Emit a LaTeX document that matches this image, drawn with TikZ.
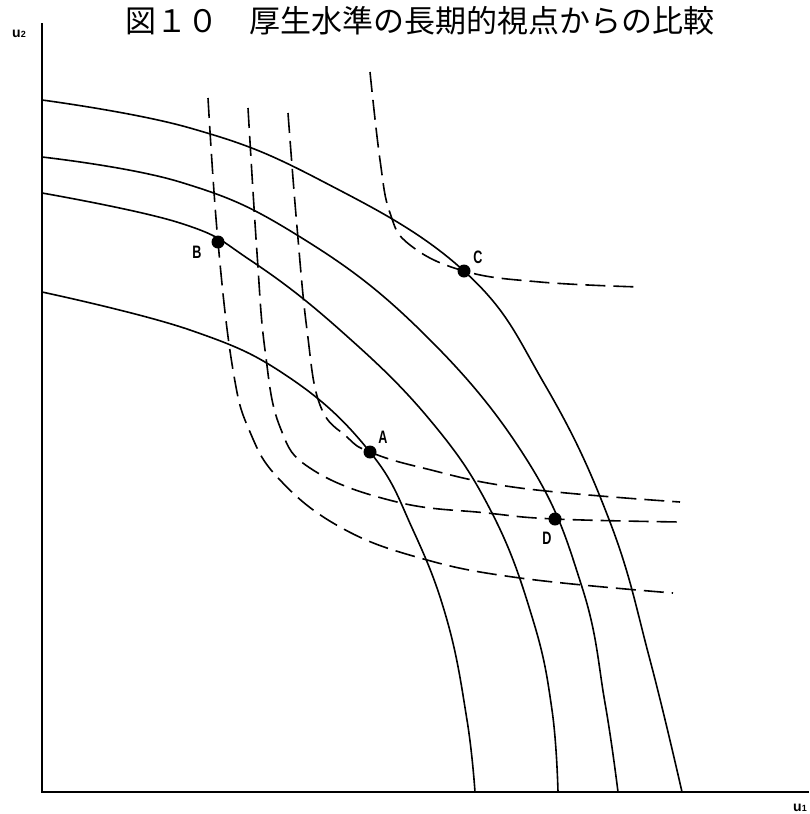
\documentclass[tikz,border=0pt]{standalone}
\usepackage{fontspec}
\setmainfont{Liberation Sans}
\newfontfamily\jpfont{Noto Sans CJK JP}
\begin{document}
\begin{tikzpicture}[x=1pt,y=-1pt,
  frontier/.style={line width=1.6pt, line join=round},
  welfare/.style={line width=1.6pt, dash pattern=on 20pt off 8pt},
  dot/.style={circle, fill=black, inner sep=0pt, minimum size=13pt},
  ptlabel/.style={font=\bfseries\fontsize{18}{18}\selectfont, inner sep=0pt},
  axlabel/.style={font=\bfseries\fontsize{14}{14}\selectfont, inner sep=0pt}]
\useasboundingbox (0,0) rectangle (809,814);
% title
\node[anchor=west, font=\jpfont\fontsize{31}{31}\selectfont, inner sep=0pt] (title) at (125,21) {図１０　厚生水準の長期的視点からの比較};
% axes
\coordinate (O) at (42,792);
\coordinate (ytop) at (42,23);
\coordinate (xend) at (809,792);
\draw[line width=1.6pt] (ytop) -- (O) -- (xend);
\node[axlabel, anchor=base west] (u2) at (12,37) {u\fontsize{9}{9}\selectfont 2};
\node[axlabel, anchor=base west] (u1) at (793,811) {u\fontsize{9}{9}\selectfont 1};
% frontiers
\draw[frontier] plot[smooth, tension=0.7] coordinates {(42,100) (190,128) (320,180) (464,271) (545,385) (610,522) (650,660) (682,792)};
\draw[frontier] plot[smooth, tension=0.7] coordinates {(42,157) (180,182) (297,235) (420,330) (527,460) (582,587) (605,703) (618,792)};
\draw[frontier] plot[smooth, tension=0.7] coordinates {(42,193) (180,223) (250,260) (340,330) (430,420) (492,513) (533,620) (552,710) (558,792)};
\draw[frontier] plot[smooth, tension=0.7] coordinates {(42,292) (190,330) (290,378) (370,452) (413,530) (447,620) (467,720) (475,792)};
% welfare curves
\draw[welfare] plot[smooth, tension=0.7] coordinates {(370,72) (380,160) (390,213) (410,245) (464,271) (540,282) (640,287)};
\draw[welfare] plot[smooth, tension=0.7] coordinates {(288,113) (297,227) (307,330) (320,405) (347,437) (370,452) (423,468) (520,488) (680,502)};
\draw[welfare] plot[smooth, tension=0.7] coordinates {(248,108) (257,253) (265,350) (280,427) (313,470) (397,502) (487,513) (555,519) (680,522)};
\draw[welfare] plot[smooth, tension=0.7] coordinates {(208,98) (218,242) (233,370) (250,432) (280,480) (340,527) (420,558) (520,578) (673,593)};
% points
\node[dot] (A) at (370,452) {};
\node[dot] (B) at (218,242) {};
\node[dot] (C) at (464,271) {};
\node[dot] (D) at (555,519) {};
\node[ptlabel] (Alab) at (383,437) {\scalebox{0.7}[1]{A}};
\node[ptlabel] (Blab) at (197,252) {\scalebox{0.7}[1]{B}};
\node[ptlabel] (Clab) at (478,257) {\scalebox{0.7}[1]{C}};
\node[ptlabel] (Dlab) at (547,538) {\scalebox{0.7}[1]{D}};
\end{tikzpicture}
\end{document}
